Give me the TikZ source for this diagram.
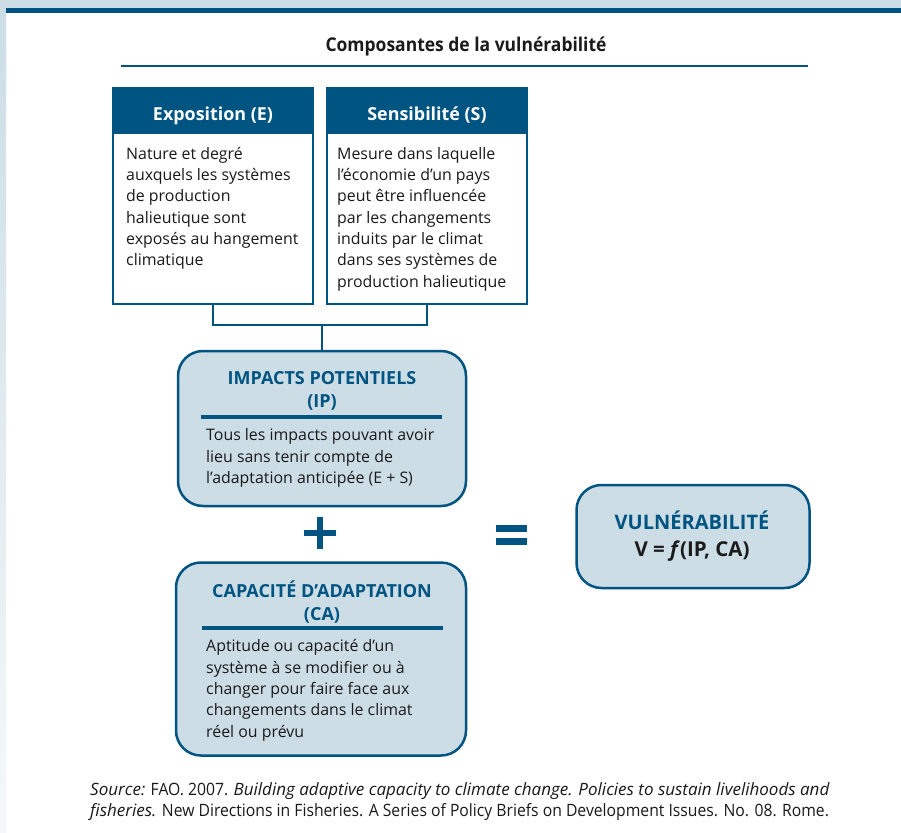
\documentclass[tikz,border=0pt]{standalone}
\usepackage{fontspec}
\setmainfont{Open Sans}
\newfontfamily\condfont{Open Sans}[FakeStretch=0.92]
\newfontfamily\footfont{Open Sans}[FakeStretch=0.925, ItalicFeatures={FakeStretch=1.0}]
\definecolor{dblue}{HTML}{005482}
\definecolor{lblue}{HTML}{CCDDE6}
\definecolor{txt}{HTML}{1A1A1A}
\tikzset{
  sqbox/.style={draw=dblue, line width=2pt, fill=white, inner sep=0pt, minimum width=200pt, minimum height=216pt},
  headbox/.style={fill=dblue, inner sep=0pt, minimum width=200pt, minimum height=47pt, anchor=north},
  headtext/.style={text=white, inner sep=0pt, font=\bfseries\fontsize{17.9}{21}\selectfont},
  rbox/.style={draw=dblue, line width=2.5pt, fill=lblue, rounded corners=25pt, inner sep=0pt},
  bodytext/.style={anchor=north west, inner sep=0pt, align=left, text=txt, font=\fontsize{15.9}{21.3}\selectfont},
  rtitle/.style={inner sep=0pt, align=center, text=dblue, font=\bfseries\fontsize{18}{23}\selectfont},
  conn/.style={draw=dblue, line width=2pt},
  rulestyle/.style={draw=dblue, line width=4pt},
  opstyle/.style={draw=dblue, line width=6.5pt}
}
\begin{document}
\begin{tikzpicture}[x=1pt,y=-1pt]
\useasboundingbox (0,0) rectangle (901,832);
% background
\fill[white] (0,0) rectangle (901,832);
\shade[top color=lblue, bottom color=lblue!20] (0,0) rectangle (6,832);
\fill[lblue] (0,0) rectangle (901,8);
\fill[dblue] (6,8) rectangle (901,13);
% title
\node[inner sep=0pt, text=txt, font=\condfont\bfseries\fontsize{19}{22}\selectfont] (title) at (466,47) {Composantes de la vulnérabilité};
\draw[dblue, line width=2.5pt] (121,66) -- (808,66);
% E and S boxes
\node[sqbox] (E) at (213,196) {};
\node[headbox] (Eh) at (E.north) {};
\node[headtext] (Eht) at (213,115.5) {Exposition (E)};
\node[bodytext] (Et) at (126,147) {Nature et degré\\auxquels les systèmes\\de production\\halieutique sont\\exposés au hangement\\climatique};
\node[sqbox] (S) at (427,196) {};
\node[headbox] (Sh) at (S.north) {};
\node[headtext] (Sht) at (427,115.5) {Sensibilité (S)};
\node[bodytext] (St) at (337,147) {Mesure dans laquelle\\l’économie d’un pays\\peut être influencée\\par les changements\\induits par le climat\\dans ses systèmes de\\production halieutique};
% IP box
\node[rbox, minimum width=288pt, minimum height=155pt] (IP) at (322,428.5) {};
\node[rtitle] (IPt) at (322,391) {IMPACTS POTENTIELS\\(IP)};
\draw[rulestyle] (201,417) -- (442,417);
\node[bodytext] (IPb) at (206,428.5) {Tous les impacts pouvant avoir\\lieu sans tenir compte de\\l’adaptation anticipée (E + S)};
% connectors
\coordinate (J) at (322,325);
\draw[conn] (E.south) |- (J) -| (S.south);
\draw[conn] (J) -- (IP.north);
% plus and equals
\coordinate (plus) at (320,533);
\draw[opstyle] ([xshift=-16pt]plus) -- ([xshift=16pt]plus);
\draw[opstyle] ([yshift=-16pt]plus) -- ([yshift=16pt]plus);
\coordinate (eq) at (511,535);
\draw[opstyle] ([shift={(-15.5,-6.5)}]eq) -- ([shift={(15.5,-6.5)}]eq);
\draw[opstyle] ([shift={(-15.5,6.5)}]eq) -- ([shift={(15.5,6.5)}]eq);
% CA box
\node[rbox, minimum width=290pt, minimum height=193pt] (CA) at (321,659) {};
\node[rtitle] (CAt) at (322,602) {CAPACITÉ D’ADAPTATION\\(CA)};
\draw[rulestyle] (202,628) -- (443,628);
\node[bodytext] (CAb) at (206,639.5) {Aptitude ou capacité d’un\\système à se modifier ou à\\changer pour faire face aux\\changements dans le climat\\réel ou prévu};
% Vulnerability box
\node[rbox, minimum width=233pt, minimum height=103pt] (V) at (693,536.5) {};
\node[inner sep=0pt, text=dblue, font=\bfseries\fontsize{20}{23}\selectfont] (Vt) at (692,520) {VULNÉRABILITÉ};
\node[inner sep=0pt, text=txt, font=\bfseries\fontsize{20.5}{23}\selectfont] (Vf) at (692,551) {V = \textit{f}(IP, CA)};
% footer
\node[anchor=north west, inner sep=0pt, align=left, text=txt, font=\footfont\fontsize{17}{21}\selectfont] (src) at (90,782) {\textit{Source:} FAO. 2007. \textit{Building adaptive capacity to climate change. Policies to sustain livelihoods and}\\\textit{fisheries.} New Directions in Fisheries. A Series of Policy Briefs on Development Issues. No. 08. Rome.};
\end{tikzpicture}
\end{document}
